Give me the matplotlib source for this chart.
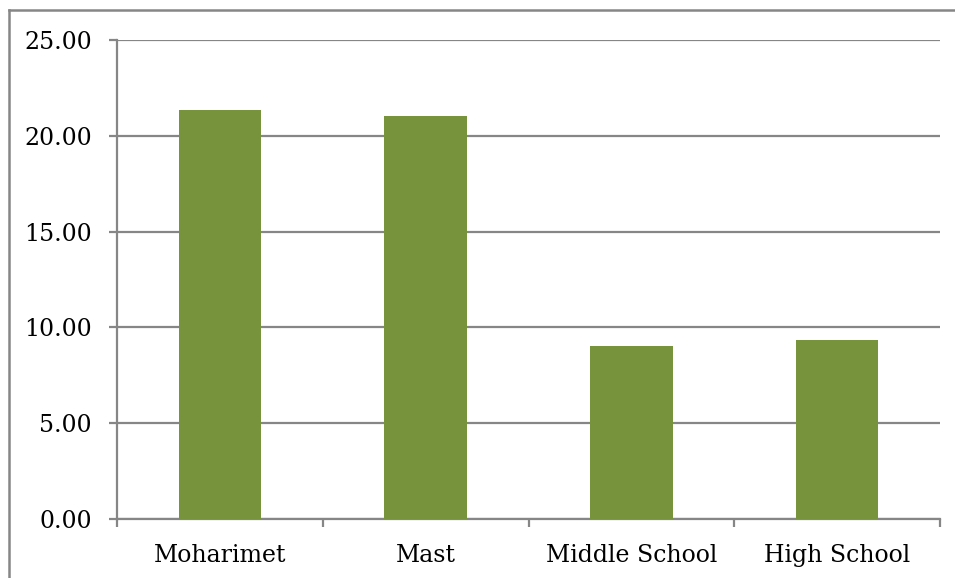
import numpy as np
import matplotlib.pyplot as plt
from matplotlib.lines import Line2D

# categories and values
schools = ["Moharimet", "Mast", "Middle School", "High School"]
values = [21.34, 21.04, 9.02, 9.33]
yticks = [0, 5, 10, 15, 20, 25]

bar_color = "#77933C"
grid_color = "#868686"

plt.rcParams['font.family'] = ['DejaVu Serif']

fig = plt.figure(figsize=(9.55, 5.78), dpi=100)
ax = fig.add_axes([117/955, 59/578, 823/955, 479/578])

x = np.arange(len(schools))
ax.bar(x, values, width=0.4, color=bar_color, zorder=3)

ax.set_ylim(0, 25)
ax.set_xlim(-0.5, len(schools) - 0.5)
ax.set_yticks(yticks)
ax.set_yticklabels([f"{v:.2f}" for v in yticks])
ax.yaxis.grid(True, color=grid_color, linewidth=1.6, zorder=0)

ax.set_xticks(x)
ax.set_xticklabels(schools)
ax.set_xticks(np.arange(len(schools) + 1) - 0.5, minor=True)
ax.tick_params(axis='x', which='major', length=0, pad=18, labelsize=17)
ax.tick_params(axis='x', which='minor', length=6, width=1.6, color=grid_color)
ax.tick_params(axis='y', length=6, width=1.6, color=grid_color, pad=12, labelsize=17)

for side in ['top', 'right']:
    ax.spines[side].set_visible(False)
for side in ['left', 'bottom']:
    ax.spines[side].set_color(grid_color)
    ax.spines[side].set_linewidth(1.6)

# outer chart frame (only left and top edges are visible)
fx = 9/955
fy = 1 - 10/578
fig.add_artist(Line2D([fx, fx], [-0.05, fy], color=grid_color, linewidth=1.8))
fig.add_artist(Line2D([fx, 1.05], [fy, fy], color=grid_color, linewidth=1.8))

fig.savefig("out.png", dpi=100)
